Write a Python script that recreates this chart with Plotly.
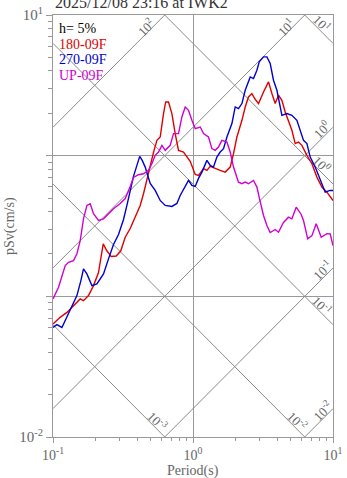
import numpy as np
import plotly.graph_objects as go

# Pseudo-velocity response spectra, h = 5%  (period in s, pSv in cm/s)
t_180 = [0.1, 0.1125, 0.1257, 0.1401, 0.1564, 0.1651, 0.1793, 0.1947, 0.2113, 0.2284,
         0.2418, 0.2604, 0.2828, 0.3045, 0.328, 0.356, 0.3865, 0.4197, 0.4431, 0.4686,
         0.4946, 0.5223, 0.5524, 0.5831, 0.6157, 0.6383, 0.6683, 0.7068, 0.7462, 0.7879,
         0.8553, 0.9046, 0.955, 1.037, 1.095, 1.189, 1.257, 1.327, 1.441, 1.564,
         1.698, 1.844, 1.947, 2.059, 2.236, 2.36, 2.491, 2.634, 2.782, 2.938,
         3.189, 3.462, 3.661, 3.865, 4.08, 4.315, 4.556, 4.81, 5.086, 5.37,
         5.671, 5.997, 6.511, 7.07, 7.674, 8.331, 9.046, 10.0]
sv_180 = [0.0636, 0.0709, 0.0769, 0.0859, 0.0958, 0.0932, 0.1012, 0.1192, 0.1475, 0.236,
          0.2116, 0.1918, 0.1933, 0.2099, 0.263, 0.3035, 0.3653, 0.4426, 0.5362, 0.678,
          0.867, 1.056, 1.285, 1.357, 1.991, 2.409, 2.409, 1.991, 1.435, 1.091,
          1.061, 0.977, 0.911, 0.736, 0.724, 0.808, 0.786, 0.839, 0.808, 0.786,
          0.764, 0.829, 1.033, 1.357, 1.784, 2.219, 2.615, 2.764, 2.518, 2.346,
          2.838, 3.344, 2.764, 2.346, 2.689, 2.477, 2.044, 1.784, 1.514, 1.218,
          1.25, 1.184, 1.005, 0.877, 0.704, 0.598, 0.55, 0.48]

t_270 = [0.1, 0.1066, 0.1158, 0.1257, 0.1365, 0.1482, 0.1582, 0.1651, 0.1746, 0.1896,
         0.2059, 0.2295, 0.2491, 0.2705, 0.2937, 0.3189, 0.3372, 0.356, 0.3758, 0.3975,
         0.4163, 0.4337, 0.4557, 0.4946, 0.537, 0.5831, 0.6331, 0.7068, 0.7674, 0.8101,
         0.8797, 0.9287, 0.982, 1.037, 1.095, 1.158, 1.257, 1.327, 1.401, 1.481,
         1.564, 1.652, 1.747, 1.896, 2.002, 2.113, 2.236, 2.36, 2.563, 2.705,
         2.861, 2.971, 3.189, 3.372, 3.559, 3.758, 3.975, 4.315, 4.686, 5.086,
         5.522, 5.832, 6.157, 6.511, 6.873, 7.464, 8.101, 8.797, 9.52, 10.0]
sv_270 = [0.0601, 0.0629, 0.0601, 0.0709, 0.0835, 0.1012, 0.1294, 0.1567, 0.1443, 0.1192,
          0.1226, 0.1443, 0.1847, 0.2335, 0.2751, 0.3518, 0.4426, 0.566, 0.7122, 0.853,
          0.989, 0.926, 0.829, 0.6349, 0.566, 0.4804, 0.4426, 0.4354, 0.4573, 0.5215,
          0.6145, 0.6668, 0.6145, 0.6044, 0.6891, 0.764, 0.926, 0.853, 0.8294, 0.977,
          1.061, 1.122, 1.357, 1.69, 2.219, 2.161, 2.346, 2.918, 3.629, 3.535,
          4.052, 4.642, 5.039, 5.039, 4.522, 3.438, 2.918, 1.936, 1.991, 1.936,
          1.784, 1.514, 1.285, 1.218, 0.977, 0.8294, 0.6668, 0.55, 0.566, 0.566]

t_up = [0.1, 0.1095, 0.1223, 0.1291, 0.1401, 0.1482, 0.1564, 0.1651, 0.1746, 0.1844,
        0.1947, 0.2113, 0.2295, 0.2491, 0.2705, 0.302, 0.328, 0.356, 0.3758, 0.408,
        0.4431, 0.4809, 0.5086, 0.537, 0.5673, 0.5997, 0.6331, 0.6873, 0.7255, 0.7879,
        0.8331, 0.8797, 0.9287, 0.982, 1.037, 1.126, 1.189, 1.29, 1.365, 1.441,
        1.521, 1.608, 1.747, 1.844, 1.947, 2.113, 2.236, 2.36, 2.491, 2.705,
        2.861, 2.971, 3.189, 3.372, 3.559, 3.865, 4.08, 4.43, 4.81, 5.086,
        5.459, 5.929, 6.157, 6.597, 7.07, 7.586, 8.236, 9.046, 9.55, 10.0]
sv_up = [0.0958, 0.1159, 0.1655, 0.1747, 0.1796, 0.2004, 0.2492, 0.3558, 0.4426, 0.455,
         0.3862, 0.3461, 0.3558, 0.3862, 0.4193, 0.4573, 0.4956, 0.6044, 0.7006, 0.7321,
         0.7442, 0.786, 0.877, 1.005, 1.061, 1.184, 1.091, 1.184, 1.435, 1.435,
         1.884, 2.219, 2.101, 1.784, 1.557, 1.598, 1.435, 1.357, 1.122, 1.091,
         1.152, 1.285, 1.25, 1.061, 0.8294, 0.6486, 0.6318, 0.6486, 0.6318, 0.6668,
         0.598, 0.5047, 0.3757, 0.3189, 0.2843, 0.2986, 0.2857, 0.3348, 0.3653, 0.3558,
         0.4305, 0.382, 0.3461, 0.2563, 0.2699, 0.328, 0.263, 0.2791, 0.2783, 0.2297]

series_names = ["180-09F", "270-09F", "UP-09F"]
series_colors = ["#e00000", "#0000d0", "#d000d0"]

# Tripartite guide levels
disp_levels = [0.001, 0.01, 0.1, 1, 10]   # displacement, cm
acc_levels = [0.01, 0.1, 1, 10, 100]      # acceleration, cm/s^2

T_MIN, T_MAX = 0.1, 10.0
V_MIN, V_MAX = 0.01, 10.0
GUIDE = "#8a8a8a"
AXIS = "#999999"
TEXT = "#666666"
FONT = "Liberation Serif"

W, H = 347, 478
ML, MR, MT, MB = 53, 14, 15, 41
PW, PH = W - ML - MR, H - MT - MB

fig = go.Figure()

span = np.array([T_MIN, T_MAX])
for d in disp_levels:
    fig.add_trace(go.Scatter(x=span, y=2 * np.pi * d / span, mode="lines",
                             line=dict(color=GUIDE, width=1), hoverinfo="skip",
                             showlegend=False))
for a in acc_levels:
    fig.add_trace(go.Scatter(x=span, y=a * span / (2 * np.pi), mode="lines",
                             line=dict(color=GUIDE, width=1), hoverinfo="skip",
                             showlegend=False))

for t, sv, name, col in zip([t_180, t_270, t_up], [sv_180, sv_270, sv_up],
                            series_names, series_colors):
    fig.add_trace(go.Scatter(x=t, y=sv, mode="lines", name=name,
                             line=dict(color=col, width=1.4), showlegend=False))


def power_label(v):
    return "10<sup>%d</sup>" % int(round(np.log10(v)))


annotations = []
# labels near where each guide line leaves the frame
for d in disp_levels:
    v_end = 2 * np.pi * d / T_MAX
    if v_end >= V_MIN:
        xe, ye, dx, dy = T_MAX, v_end, -11, 20
    else:
        xe, ye, dx, dy = 2 * np.pi * d / V_MIN, V_MIN, -7, 16
    annotations.append(dict(x=np.log10(xe), y=np.log10(ye), xref="x", yref="y",
                            text=power_label(d), showarrow=False, textangle=45,
                            xshift=dx, yshift=dy,
                            font=dict(family=FONT, size=13, color=TEXT)))
for a in acc_levels:
    v_end = a * T_MAX / (2 * np.pi)
    if v_end <= V_MAX:
        xe, ye, dx, dy = T_MAX, v_end, -11, -2
    else:
        xe, ye, dx, dy = 2 * np.pi * V_MAX / a, V_MAX, -19, -12
    annotations.append(dict(x=np.log10(xe), y=np.log10(ye), xref="x", yref="y",
                            text=power_label(a), showarrow=False, textangle=-45,
                            xshift=dx, yshift=dy,
                            font=dict(family=FONT, size=13, color=TEXT)))


def paper_y(py):
    return 1 - (py - MT) / PH


def paper_x(px):
    return (px - ML) / PW


# title
annotations.append(dict(x=0, y=1, xref="paper", yref="paper", xanchor="left",
                        yanchor="bottom", yshift=2, showarrow=False,
                        text="2025/12/08 23:16 at IWK2",
                        font=dict(family=FONT, size=16, color="#333333")))
# axis titles
annotations.append(dict(x=0.5, y=paper_y(471), xref="paper", yref="paper",
                        xanchor="center", yanchor="middle", showarrow=False,
                        text="Period(s)",
                        font=dict(family=FONT, size=14, color=TEXT)))
annotations.append(dict(x=paper_x(10), y=0.5, xref="paper", yref="paper",
                        xanchor="center", yanchor="middle", showarrow=False,
                        textangle=-90, text="pSv(cm/s)",
                        font=dict(family=FONT, size=14, color=TEXT)))
# in-plot key
key_rows = [("h= 5%", "#000000")] + list(zip(series_names, series_colors))
for i, (txt, col) in enumerate(key_rows):
    py = 28.5 + 15.5 * i
    annotations.append(dict(x=paper_x(57), y=paper_y(py), xref="paper",
                            yref="paper", xanchor="left", yanchor="middle",
                            showarrow=False, text=txt,
                            font=dict(family=FONT, size=14, color=col)))

minor_x = [m * 10.0 ** e for e in (-1, 0) for m in range(2, 10)]
minor_y = [m * 10.0 ** e for e in (-2, -1, 0) for m in range(2, 10)]

fig.update_layout(
    width=W, height=H,
    margin=dict(l=ML, r=MR, t=MT, b=MB),
    paper_bgcolor="white", plot_bgcolor="white",
    font=dict(family=FONT, color=TEXT),
    annotations=annotations,
    xaxis=dict(type="log", range=[-1, 1], automargin=False,
               tickvals=[0.1, 1, 10],
               ticktext=["10<sup>-1</sup>", "10<sup>0</sup>", "10<sup>1</sup>"],
               ticks="outside", ticklen=5, tickcolor=AXIS,
               tickfont=dict(family=FONT, size=14, color=TEXT),
               showgrid=True, gridcolor=AXIS, gridwidth=1,
               showline=True, linecolor=AXIS, linewidth=1, mirror=True,
               zeroline=False,
               minor=dict(tickvals=minor_x, ticks="outside", ticklen=3,
                          tickcolor=AXIS, showgrid=False)),
    yaxis=dict(type="log", range=[-2, 1], automargin=False,
               tickvals=[0.01, 0.1, 1, 10],
               ticktext=["10<sup>-2</sup>", "", "", "10<sup>1</sup>"],
               ticks="outside", ticklen=6, tickcolor=AXIS,
               tickfont=dict(family=FONT, size=15, color=TEXT),
               showgrid=True, gridcolor=AXIS, gridwidth=1,
               showline=True, linecolor=AXIS, linewidth=1, mirror=True,
               zeroline=False,
               minor=dict(tickvals=minor_y, ticks="outside", ticklen=4,
                          tickcolor=AXIS, showgrid=False)),
)

fig.write_html("out.html")
